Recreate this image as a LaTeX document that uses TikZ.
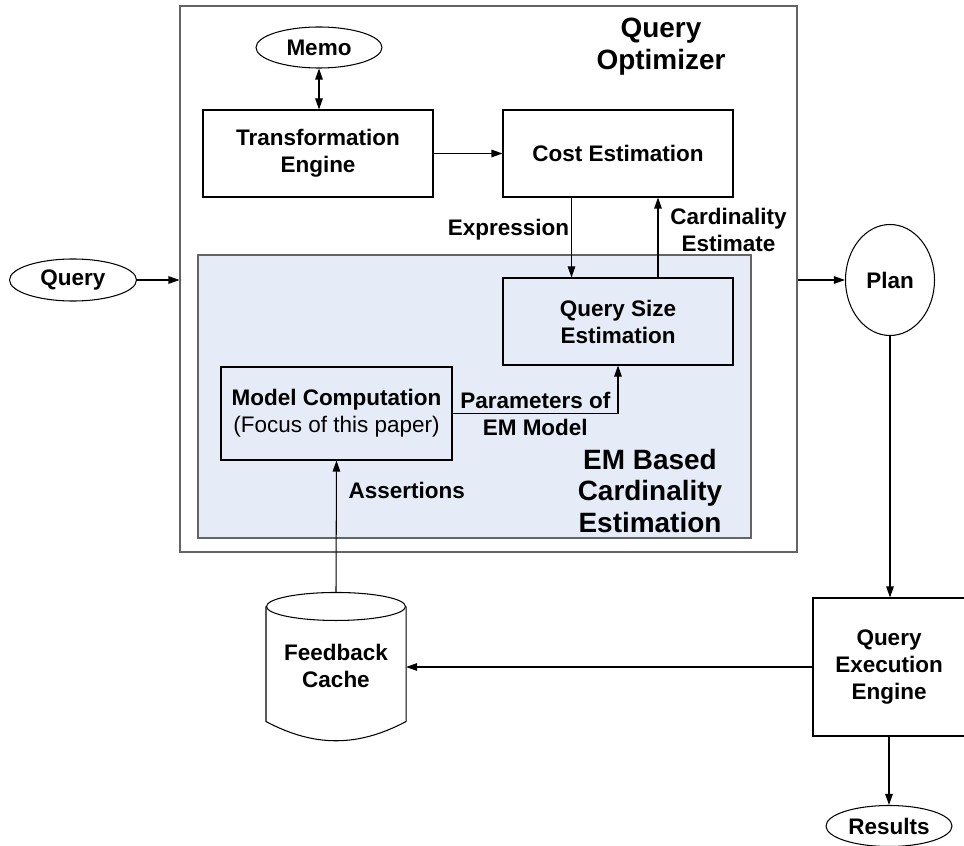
\documentclass[tikz,border=0pt]{standalone}
\usepackage{fontspec}
\setmainfont{Liberation Sans}
\usetikzlibrary{shapes.geometric, positioning, arrows.meta}
\definecolor{embg}{RGB}{230,236,247}
\definecolor{framegray}{RGB}{100,100,100}
\newcommand{\lbl}{\fontsize{12.8}{15.4}\selectfont\bfseries}
\newcommand{\ttl}{\fontsize{15.9}{18.2}\selectfont\bfseries}
\tikzset{
	>={Triangle[length=0.22cm, width=0.15cm]}, % filled narrow heads
	block/.style={draw, rectangle, minimum width=4.6cm, minimum height=1.74cm, align=center, font=\lbl}, % the boxes
	oval/.style={draw, ellipse, minimum width=2.52cm, minimum height=0.82cm, inner sep=0pt, font=\lbl}, % start and end points
	tag/.style={font=\lbl, align=center, inner sep=1pt}, % labels on the edges
}
\begin{document}
\begin{tikzpicture}[line width=0.6pt]
	\useasboundingbox (0,0) rectangle (19.28,-16.92);
	% Frames
	\node[draw=framegray, minimum width=12.34cm, minimum height=10.92cm] (opt) at (9.77,-5.58) {};
	\node[font=\ttl, align=center] (optname) at (13.22,-0.94) {Query\\Optimizer};
	\node[draw=framegray, line width=1pt, fill=embg, minimum width=11.06cm, minimum height=5.66cm] (em) at (9.49,-7.93) {};
	\node[font=\ttl, align=center] (emname) at (13.0,-9.82) {EM Based\\Cardinality\\Estimation};
	
	% Blocks
	\node[oval] (memo) at (6.38,-0.95) {Memo};
	\node[block] (te) at (6.36,-3.07) {Transformation\\Engine};
	\node[block, on grid, right=6cm of te] (ce) {Cost Estimation};
	\node[block, on grid, below=3.36cm of ce] (qse) {Query Size\\Estimation};
	\node[block, minimum width=4.62cm, minimum height=1.86cm] (mc) at (6.73,-8.27) {Model Computation\\{\mdseries (Focus of this paper)}};
	\node[oval, minimum width=2.54cm, minimum height=0.84cm] (query) at (1.46,-5.6) {Query};
	\node[oval, minimum width=1.78cm, minimum height=2.22cm] (plan) at (17.8,-5.6) {Plan};
	\node[block, minimum width=3.04cm, minimum height=2.76cm] (qee) at (17.78,-13.34) {Query\\Execution\\Engine};
	\node[oval, on grid, below=3.18cm of qee] (results) {Results};
	\node[minimum width=2.78cm, minimum height=2.92cm, align=center, font=\lbl] (cache) at (6.72,-13.32) {Feedback\\Cache};
	
	% Cylinder round the cache
	\draw ([yshift=-0.28cm]cache.north) ellipse (1.39cm and 0.28cm);
	\draw ([yshift=-0.28cm]cache.north west) -- ([yshift=0.36cm]cache.south west)
		to[out=-28, in=-152] ([yshift=0.36cm]cache.south east) -- ([yshift=-0.28cm]cache.north east);
	
	% Connections
	\draw[<->] (memo.south) -- (memo.south |- te.north);
	\draw[->] (te) -- (ce);
	\draw[->] ([xshift=-0.93cm]ce.south) -- node[tag, left, pos=0.4] {Expression} ([xshift=-0.93cm]qse.north);
	\draw[->] ([xshift=0.8cm]qse.north) -- node[tag, right=0.2cm, pos=0.6] {Cardinality\\Estimate} ([xshift=0.8cm]ce.south);
	\draw[->] (mc.east) -| node[tag, pos=0.25] {Parameters of\\EM Model} (qse.south);
	\draw[->] (cache.north) -- node[tag, right=0.2cm, pos=0.77] {Assertions} (mc.south);
	\draw[->] (query) -- (query -| opt.west);
	\draw[->] (opt.east |- plan) -- (plan);
	\draw[->] (plan) -- (plan |- qee.north);
	\draw[->] (qee.west) -- (qee.west -| cache.east);
	\draw[->] (qee) -- (results);
\end{tikzpicture}
\end{document}
